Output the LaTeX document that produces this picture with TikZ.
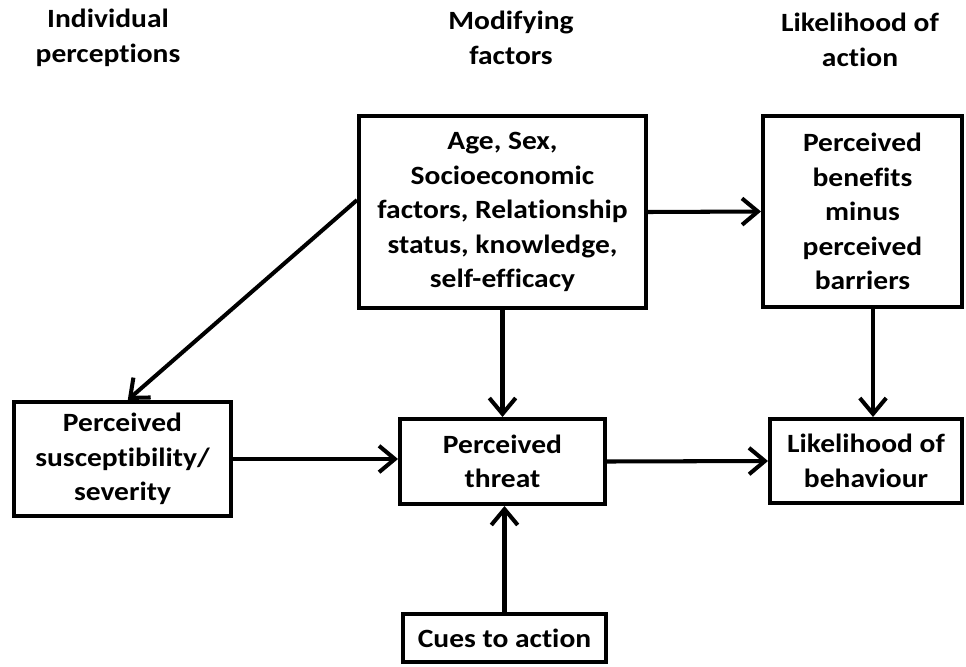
\documentclass[tikz,border=0pt]{standalone}
\usepackage{fontspec}
\setmainfont{Carlito}
\newfontfamily\boxfont{Carlito}[FakeStretch=1.12,Ligatures=NoCommon]
\usetikzlibrary{arrows.meta}

\tikzset{
  box/.style={draw,line width=2.3pt,align=center,inner sep=0pt,
    font=\boxfont\bfseries\fontsize{15}{19.6}\selectfont},
  head/.style={align=center,font=\boxfont\bfseries\fontsize{15}{19.8}\selectfont},
  arr/.style={-{Straight Barb[length=9pt,width=15pt]},line width=2.3pt}
}

\begin{document}
\begin{tikzpicture}[x=0.02cm,y=-0.02cm]
    \useasboundingbox (0,0) rectangle (966,666);
    % column headings
    \node[head] (hind) at (108,38) {Individual\\perceptions};
    \node[head] (hmod) at (511,38) {Modifying\\factors};
    \node[head] (hlik) at (860,40) {Likelihood of\\action};
    % boxes
    \node[box,minimum width=5.74cm,minimum height=3.84cm] (mod) at (502.5,212) {Age, Sex,\\Socioeconomic\\factors, Relationship\\status, knowledge,\\self-efficacy};
    \node[box,minimum width=3.98cm,minimum height=3.82cm] (ben) at (862.5,211.5) {Perceived\\benefits\\minus\\perceived\\barriers};
    \node[box,minimum width=4.34cm,minimum height=2.28cm] (sus) at (122.5,459) {Perceived\\susceptibility/\\severity};
    \node[box,minimum width=4.10cm,minimum height=1.70cm] (thr) at (502.5,461.5) {Perceived\\threat};
    \node[box,minimum width=3.84cm,minimum height=1.68cm] (beh) at (866,461) {Likelihood of\\behaviour};
    \node[box,minimum width=4.06cm,minimum height=0.96cm] (cue) at (504.5,638) {Cues to action};
    % arrows
    \draw[arr] (mod.east) -- (ben.west);
    \draw[arr] ([yshift=6.8pt]mod.west) -- ([xshift=3pt]sus.north);
    \draw[arr] (mod.south) -- (thr.north);
    \draw[arr] (ben.south -| 873,0) -- (beh.north -| 873,0);
    \draw[arr] (sus.east) -- (sus.east -| thr.west);
    \draw[arr] (thr.east) -- (beh.west);
    \draw[arr] (cue.north) -- (cue.north |- thr.south);
\end{tikzpicture}
\end{document}
